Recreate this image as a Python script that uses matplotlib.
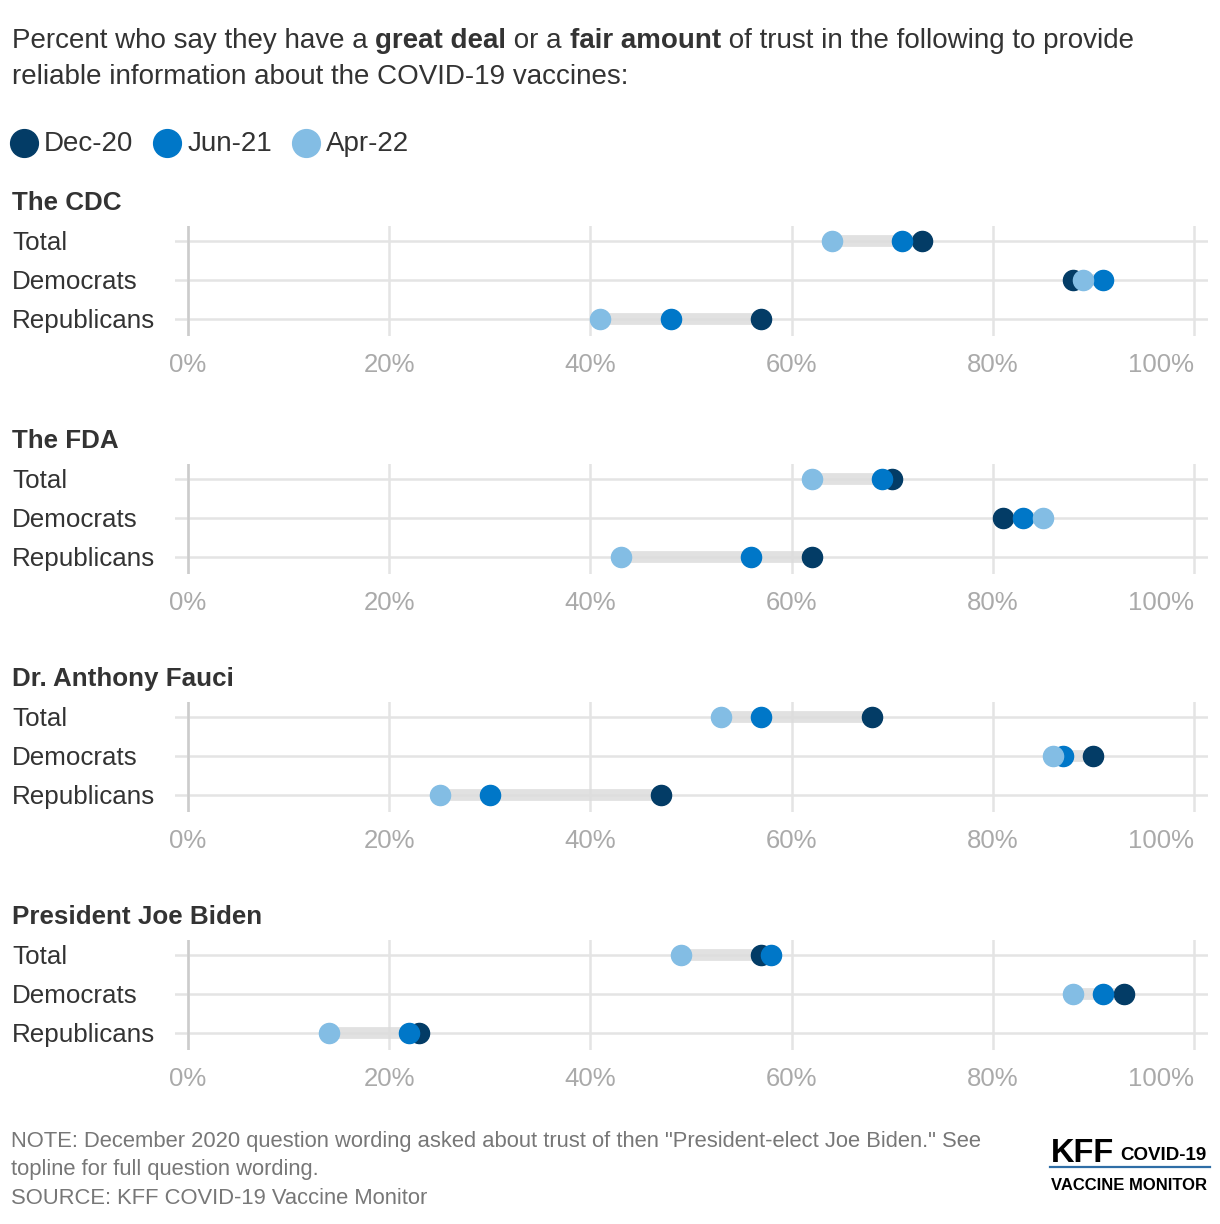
import matplotlib.pyplot as plt
from matplotlib.transforms import blended_transform_factory

plt.rcParams['font.family'] = ['Liberation Sans', 'DejaVu Sans']

# data: percent with a great deal / fair amount of trust
panels = ['The CDC', 'The FDA', 'Dr. Anthony Fauci', 'President Joe Biden']
groups = ['Total', 'Democrats', 'Republicans']
waves = ['Dec-20', 'Jun-21', 'Apr-22']
dec20 = [[73, 88, 57], [70, 81, 62], [68, 90, 47], [57, 93, 23]]
jun21 = [[71, 91, 48], [69, 83, 56], [57, 87, 30], [58, 91, 22]]
apr22 = [[64, 89, 41], [62, 85, 43], [53, 86, 25], [49, 88, 14]]
ticks = [0, 20, 40, 60, 80, 100]
tick_labels = ['0%', '20%', '40%', '60%', '80%', '100%']

colors = ['#033c66', '#0077c8', '#83bde4']
W, H = 1220, 1224
fig = plt.figure(figsize=(W / 100, H / 100), dpi=100)
renderer = fig.canvas.get_renderer()


def fx(px):
    return px / W


def fy(py):
    return 1 - py / H


def rich_line(x, y, parts, size, color='#333333'):
    # draw text pieces one after another, some bold
    for txt, bold in parts:
        t = fig.text(fx(x), fy(y), txt, fontsize=size, color=color,
                     fontweight='bold' if bold else 'normal', va='center', ha='left')
        bb = t.get_window_extent(renderer)
        x += bb.width


rich_line(12, 41, [('Percent who say they have a ', False), ('great deal', True),
                   (' or a ', False), ('fair amount', True),
                   (' of trust in the following to provide', False)], 20)
rich_line(12, 77, [('reliable information about the COVID-19 vaccines:', False)], 20)

# legend
lx = 24
for w, c in zip(waves, colors):
    fig.lines.append(plt.Line2D([fx(lx)], [fy(143)], marker='o', markersize=20,
                                color=c, transform=fig.transFigure))
    t = fig.text(fx(lx + 20), fy(144), w, fontsize=20, color='#333333', va='center')
    lx = lx + 20 + t.get_window_extent(renderer).width + 34

for k, name in enumerate(panels):
    off = k * 238
    top, bot = 226 + off, 336 + off
    ax = fig.add_axes([fx(175), fy(bot), fx(1208) - fx(175), (bot - top) / H])
    ax.set_xlim(-1.3, 101.4)
    ax.set_ylim(2.44, -0.38)
    for s in ax.spines.values():
        s.set_visible(False)
    ax.set_xticks(ticks)
    ax.set_xticklabels(tick_labels)
    ax.get_xticklabels()[-1].set_horizontalalignment('right')
    ax.set_yticks([])
    ax.tick_params(axis='x', length=0, pad=12, labelsize=18.5, labelcolor='#aaaaaa')
    ax.grid(axis='x', color='#e4e4e4', linewidth=1.8)
    ax.axvline(0, color='#cccccc', linewidth=1.8)
    ax.set_axisbelow(True)
    for i in range(3):
        ax.axhline(i, color='#e4e4e4', linewidth=1.8, zorder=0.5)
        vals = [dec20[k][i], jun21[k][i], apr22[k][i]]
        ax.plot([min(vals), max(vals)], [i, i], color='#dcdcdc', linewidth=8.5,
                solid_capstyle='butt', alpha=0.85, zorder=1)
        for v, c in zip(vals, colors):
            ax.plot([v], [i], 'o', color=c, markersize=14.5, zorder=3)
    tr = blended_transform_factory(fig.transFigure, ax.transData)
    for i, g in enumerate(groups):
        ax.text(fx(12), i + 0.06, g, transform=tr, fontsize=18.7, color='#333333',
                va='center', ha='left')
    fig.text(fx(12), fy(203 + off), name, fontsize=18.7, fontweight='bold',
             color='#333333', va='center')

# notes
note_c = '#777777'
fig.text(fx(11), fy(1141), 'NOTE: December 2020 question wording asked about trust of then '
         '"President-elect Joe Biden." See', fontsize=15.8, color=note_c, va='center')
fig.text(fx(11), fy(1169), 'topline for full question wording.', fontsize=15.8,
         color=note_c, va='center')
fig.text(fx(11), fy(1199), 'SOURCE: KFF COVID-19 Vaccine Monitor', fontsize=15.8,
         color=note_c, va='center')

# logo
fig.text(fx(1051), fy(1153), 'KFF', fontsize=23.5, fontweight='heavy', color='black',
         va='center', ha='left')
fig.text(fx(1120), fy(1156), 'COVID-19', fontsize=13.5, fontweight='bold', color='black',
         va='center', ha='left')
fig.lines.append(plt.Line2D([fx(1050), fx(1210)], [fy(1167), fy(1167)], color='#2f6ea6',
                            linewidth=1.6, transform=fig.transFigure))
fig.text(fx(1129), fy(1186), 'VACCINE MONITOR', fontsize=12, fontweight='bold',
         color='black', va='center', ha='center')

fig.savefig('out.png', dpi=100)
